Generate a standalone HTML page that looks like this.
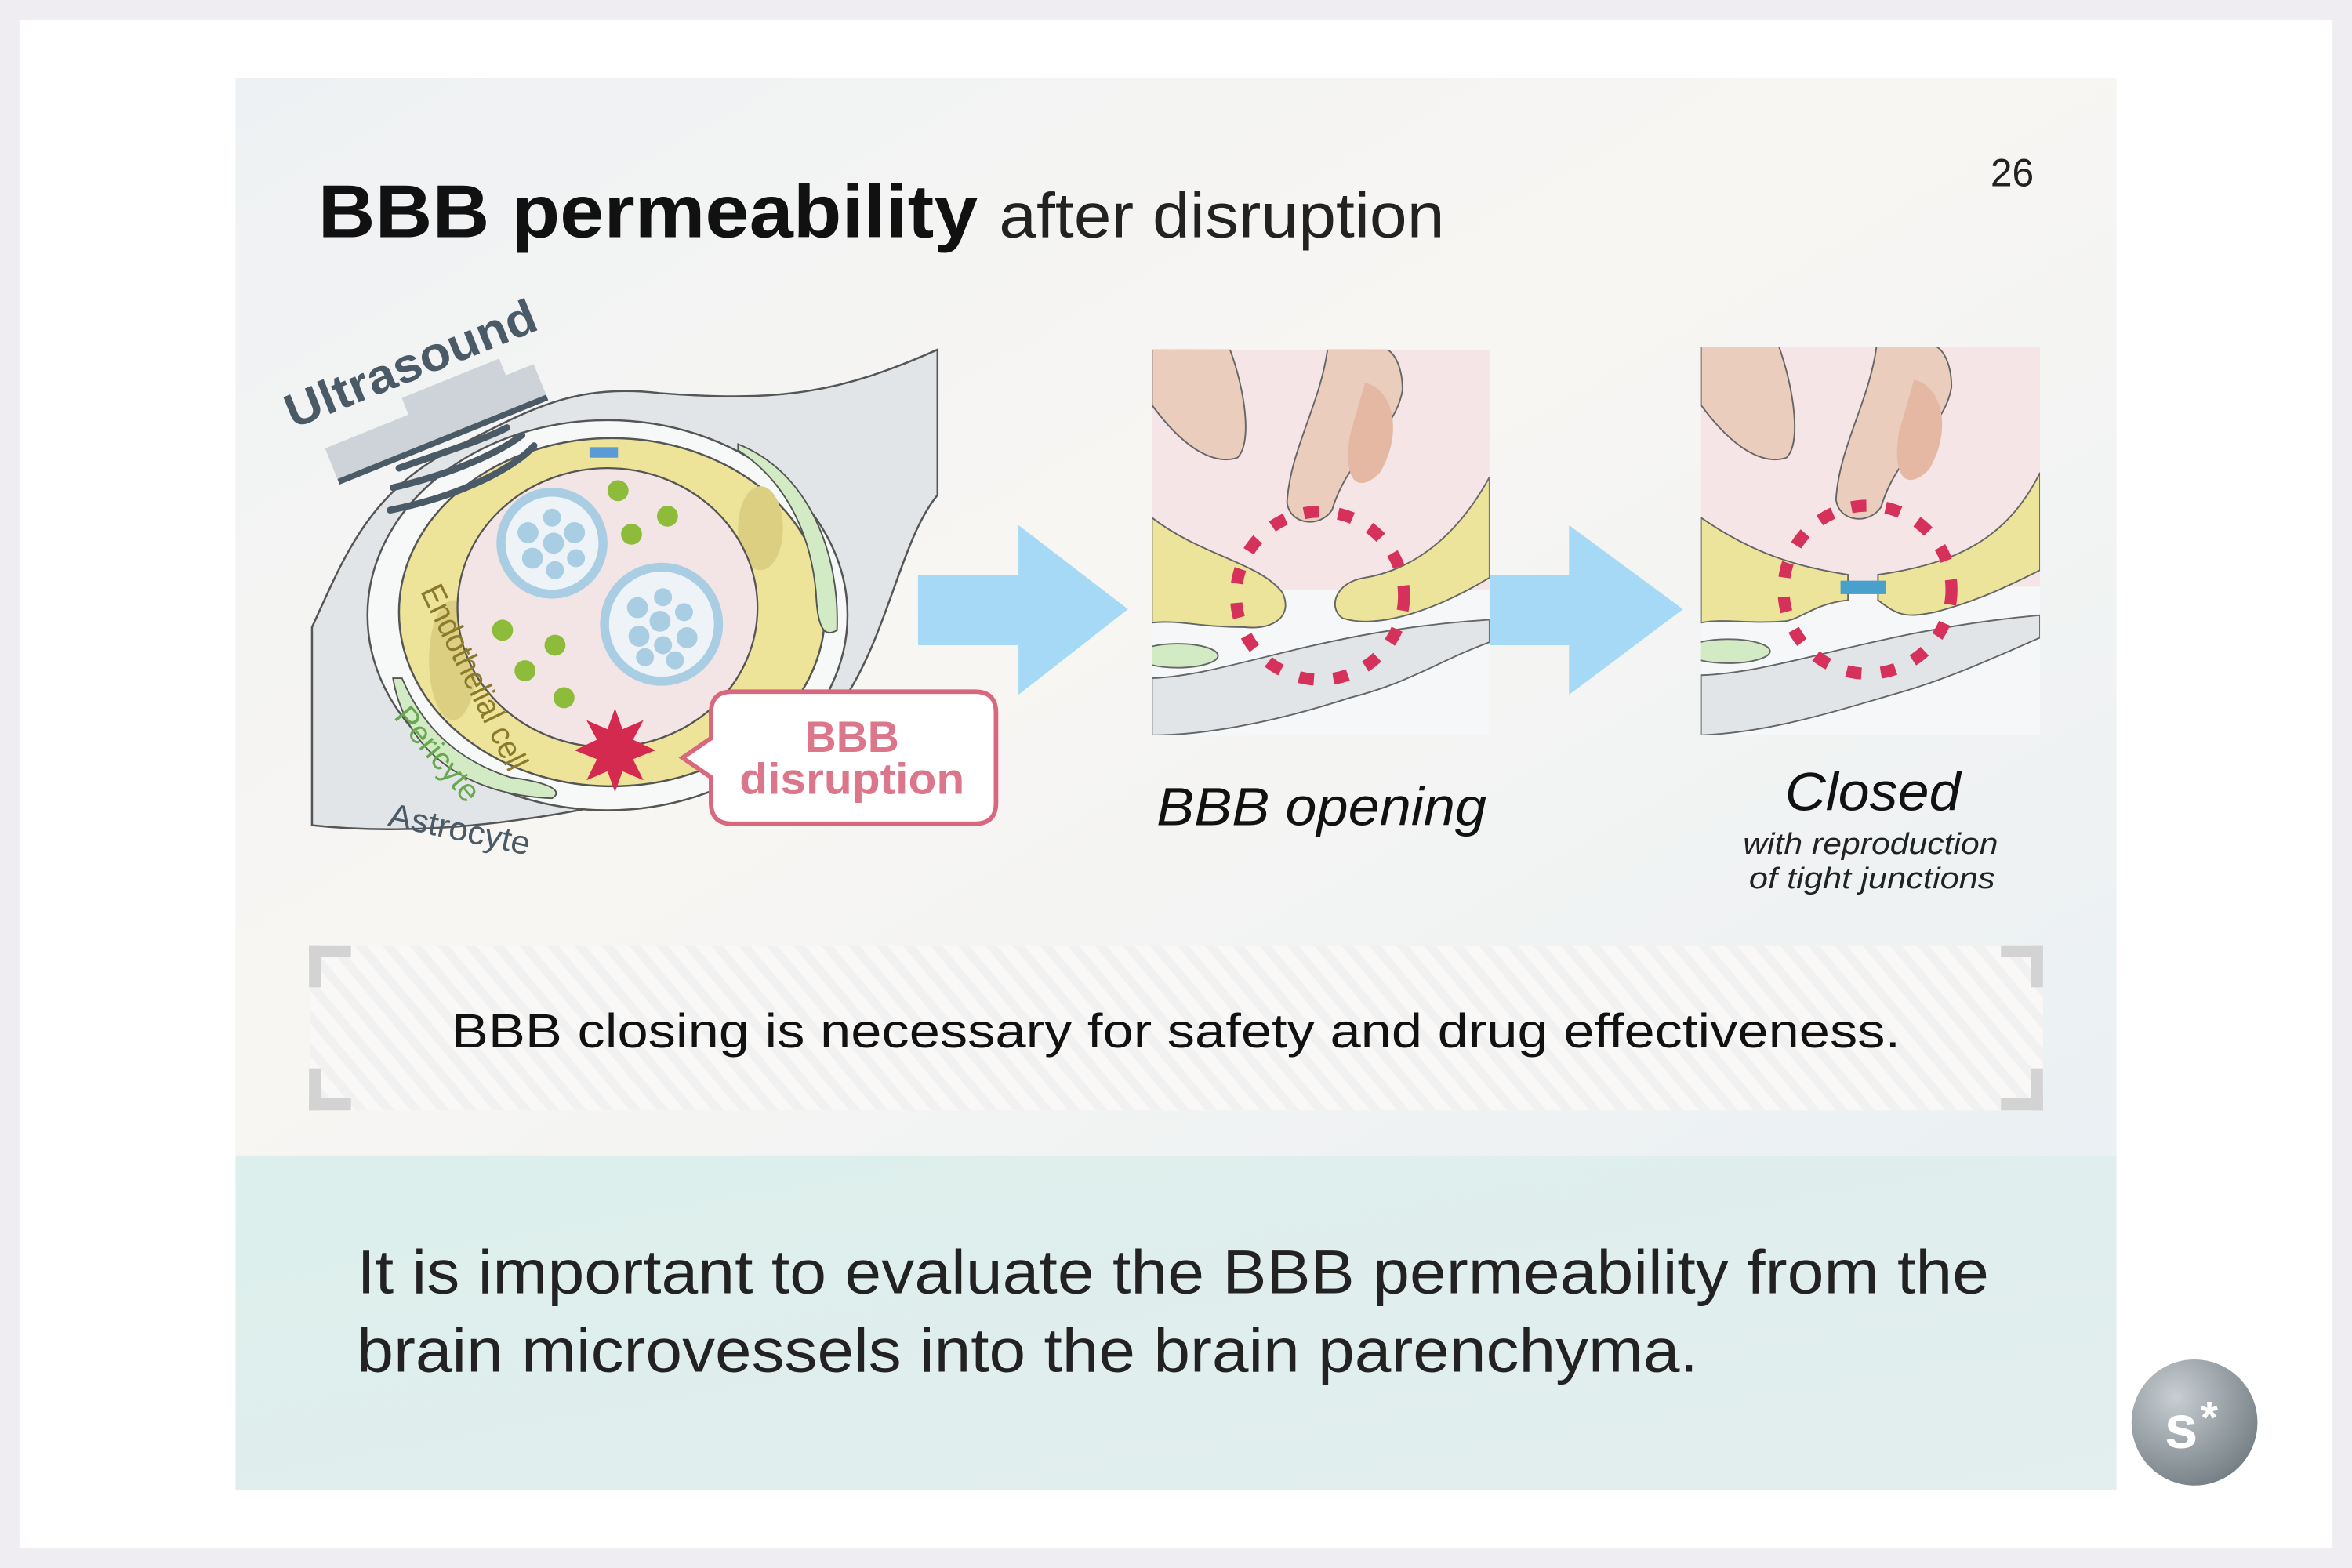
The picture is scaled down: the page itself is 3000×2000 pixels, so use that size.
<!DOCTYPE html>
<html><head><meta charset="utf-8"><style>
html,body{margin:0;padding:0;width:3000px;height:2000px;overflow:hidden;background:#efedf1}
svg{display:block}
text{font-family:"Liberation Sans","DejaVu Sans",sans-serif}
</style></head><body>
<svg width="3000" height="2000" viewBox="0 0 1568 1045" preserveAspectRatio="none" xmlns="http://www.w3.org/2000/svg">
<defs>
<linearGradient id="sl" x1="0" y1="0" x2="1" y2="1">
<stop offset="0" stop-color="#eef1f3"/><stop offset="0.45" stop-color="#f8f6f3"/><stop offset="1" stop-color="#eaf0f3"/>
</linearGradient>
<linearGradient id="bt" x1="0" y1="0" x2="1" y2="1">
<stop offset="0" stop-color="#dcefec"/><stop offset="1" stop-color="#e3eeee"/>
</linearGradient>
<pattern id="hatch" width="14" height="14" patternUnits="userSpaceOnUse" patternTransform="rotate(-40)">
<rect width="14" height="14" fill="#f9f8f7"/><rect width="6" height="14" fill="#f1f1f1"/>
</pattern>
<radialGradient id="logo" cx="0.35" cy="0.3" r="0.8">
<stop offset="0" stop-color="#c8ced2"/><stop offset="1" stop-color="#6f7a80"/>
</radialGradient>
<clipPath id="c2"><rect x="768" y="233" width="225" height="257"/></clipPath>
<clipPath id="c3"><rect x="1134" y="231" width="226" height="259"/></clipPath>
</defs>
<rect x="13" y="13" width="1542" height="1019" fill="#ffffff"/>
<rect x="157" y="52" width="1254" height="718" fill="url(#sl)"/>
<rect x="157" y="770" width="1254" height="223" fill="url(#bt)"/>

<text x="212" y="158" font-size="50" font-weight="bold" fill="#111" textLength="440" lengthAdjust="spacingAndGlyphs">BBB permeability</text>
<text x="666" y="158" font-size="42" fill="#222" textLength="297" lengthAdjust="spacingAndGlyphs">after disruption</text>
<text x="1327" y="124" font-size="26" fill="#222">26</text>

<!-- left diagram -->
<path d="M208,418 C230,370 245,330 300,300 C350,275 380,255 440,262 C520,268 560,262 625,233 L625,330 C600,360 592,425 560,470 C540,500 505,518 470,520 C400,540 300,560 208,550 Z" fill="#e1e5e8" stroke="#555" stroke-width="1.3"/>
<ellipse cx="405" cy="410" rx="160" ry="130" fill="#f7f8f8" stroke="#555" stroke-width="1.3"/>
<ellipse cx="408" cy="408" rx="142" ry="116" fill="#ede49a" stroke="#555" stroke-width="1.3"/>
<ellipse cx="302" cy="440" rx="16" ry="40" fill="#dccf82"/>
<ellipse cx="507" cy="352" rx="15" ry="28" fill="#dccf82"/>
<ellipse cx="405" cy="405" rx="100" ry="93" fill="#f3e4e6" stroke="#555" stroke-width="1.2"/>
<rect x="393" y="298" width="19" height="7" fill="#5b9bd5"/>
<path d="M262,452 C270,500 310,530 368,532 C375,528 370,522 340,518 C300,505 280,480 268,452 Z" fill="#d2ebc4" stroke="#555" stroke-width="1"/>
<path d="M492,296 C540,315 560,370 558,420 C550,425 545,420 544,395 C540,350 520,318 492,300 Z" fill="#d2ebc4" stroke="#555" stroke-width="1"/>
<circle cx="368" cy="362" r="34" fill="#eef3f7" stroke="#a9cde3" stroke-width="6"/>
<g fill="#a9cde3"><circle cx="352" cy="355" r="7"/><circle cx="368" cy="345" r="6"/><circle cx="383" cy="355" r="7"/><circle cx="369" cy="362" r="7"/><circle cx="355" cy="372" r="7"/><circle cx="384" cy="372" r="6"/><circle cx="370" cy="380" r="6"/></g>
<circle cx="441" cy="416" r="38" fill="#eef3f7" stroke="#a9cde3" stroke-width="6"/>
<g fill="#a9cde3"><circle cx="425" cy="405" r="7"/><circle cx="442" cy="398" r="6"/><circle cx="456" cy="408" r="6"/><circle cx="440" cy="414" r="7"/><circle cx="426" cy="424" r="7"/><circle cx="458" cy="425" r="7"/><circle cx="442" cy="430" r="6"/><circle cx="430" cy="438" r="6"/><circle cx="450" cy="440" r="6"/></g>
<g fill="#8dbb3a"><circle cx="412" cy="327" r="7"/><circle cx="445" cy="344" r="7"/><circle cx="421" cy="356" r="7"/><circle cx="335" cy="420" r="7"/><circle cx="370" cy="430" r="7"/><circle cx="350" cy="447" r="7"/><circle cx="376" cy="465" r="7"/></g>
<polygon points="410,472 415,486 429,480 422,493 437,500 422,506 429,520 415,514 410,528 405,514 391,520 398,506 383,500 398,493 391,480 405,486" fill="#d42a4f"/>
<!-- ultrasound -->
<g transform="rotate(-22 290 280)">
<rect x="215" y="270" width="150" height="22" fill="#cdd3d8"/>
<rect x="275" y="258" width="70" height="14" fill="#cdd3d8"/>
<line x1="215" y1="294" x2="365" y2="294" stroke="#4a5a66" stroke-width="4"/>
<text x="200" y="250" font-size="32" font-weight="bold" fill="#4a5a66" textLength="178" lengthAdjust="spacingAndGlyphs">Ultrasound</text>
</g>
<g fill="none" stroke="#4a5a66" stroke-width="4.5" stroke-linecap="round">
<path d="M266,312 C300,300 325,292 338,285"/>
<path d="M262,325 C305,315 335,300 348,290"/>
<path d="M260,340 C310,330 345,310 356,297"/>
</g>
<text font-size="22" fill="#8a7a2a" transform="translate(280,394) rotate(64)" textLength="135" lengthAdjust="spacingAndGlyphs">Endothelial cell</text>
<text font-size="21" fill="#6aa84f" transform="translate(262,478) rotate(50)">Pericyte</text>
<text font-size="22" fill="#4a5a66" transform="translate(258,550) rotate(12)" textLength="96" lengthAdjust="spacingAndGlyphs">Astrocyte</text>
<!-- callout -->
<path d="M488,461 H650 Q664,461 664,475 V535 Q664,549 650,549 H488 Q474,549 474,535 V518 L455,505 L474,492 V475 Q474,461 488,461 Z" fill="#fff" stroke="#d9687f" stroke-width="3"/>
<text x="568" y="501" font-size="29" font-weight="bold" text-anchor="middle" fill="#d9687f" opacity="0.9">BBB</text>
<text x="568" y="529" font-size="29" font-weight="bold" text-anchor="middle" fill="#d9687f" opacity="0.9" textLength="150" lengthAdjust="spacingAndGlyphs">disruption</text>

<!-- arrows -->
<g fill="#a6d9f5">
<rect x="612" y="383" width="70" height="47"/><polygon points="679,350 752,406 679,463"/>
<rect x="993" y="383" width="56" height="47"/><polygon points="1046,350 1122,406 1046,463"/>
</g>

<!-- panel 2 -->
<g clip-path="url(#c2)">
<rect x="768" y="233" width="225" height="257" fill="#f6f7f8"/>
<rect x="768" y="233" width="225" height="160" fill="#f5e5e7"/>
<path d="M768,233 V270 C790,300 810,310 825,305 C835,295 830,260 820,233 Z" fill="#ebcdbd" stroke="#666" stroke-width="1"/>
<path d="M885,233 C880,270 860,300 858,335 C860,350 880,352 888,340 C900,300 930,290 935,260 C935,245 930,236 925,233 Z" fill="#ebcdbd" stroke="#666" stroke-width="1"/>
<path d="M910,255 C930,260 935,290 920,315 C905,330 895,320 900,290 Z" fill="#e4b8a2"/>
<path d="M768,345 C800,370 840,375 855,395 C862,410 850,420 830,418 C800,418 785,413 768,415 Z" fill="#ece49a" stroke="#666" stroke-width="1"/>
<path d="M993,318 C970,360 940,380 910,385 C890,388 885,405 895,412 C920,420 960,405 993,385 Z" fill="#ece49a" stroke="#666" stroke-width="1"/>
<ellipse cx="785" cy="437" rx="27" ry="8" fill="#d2ebc4" stroke="#666" stroke-width="1"/>
<path d="M768,452 C820,450 880,420 993,413 V428 C960,440 940,455 900,465 C860,478 810,490 768,490 Z" fill="#e1e5e8" stroke="#666" stroke-width="1"/>
<circle cx="880" cy="397" r="56" fill="none" stroke="#d6315a" stroke-width="8" stroke-dasharray="10 13"/>
</g>
<!-- panel 3 -->
<g clip-path="url(#c3)">
<rect x="1134" y="231" width="226" height="259" fill="#f6f7f8"/>
<rect x="1134" y="231" width="226" height="160" fill="#f5e5e7"/>
<path d="M1134,231 V270 C1156,300 1176,310 1191,305 C1201,295 1196,260 1186,231 Z" fill="#ebcdbd" stroke="#666" stroke-width="1"/>
<path d="M1251,231 C1246,268 1226,298 1224,333 C1226,348 1246,350 1254,338 C1266,298 1296,288 1301,258 C1301,243 1296,234 1291,231 Z" fill="#ebcdbd" stroke="#666" stroke-width="1"/>
<path d="M1276,253 C1296,258 1301,288 1286,313 C1271,328 1261,318 1266,288 Z" fill="#e4b8a2"/>
<path d="M1134,345 C1170,370 1200,378 1232,383 V400 C1210,402 1200,413 1190,414 C1165,416 1150,412 1134,415 Z" fill="#ece49a" stroke="#666" stroke-width="1"/>
<path d="M1360,315 C1340,355 1310,375 1252,383 V400 C1265,410 1270,412 1290,408 C1320,400 1340,390 1360,380 Z" fill="#ece49a" stroke="#666" stroke-width="1"/>
<rect x="1227" y="387" width="30" height="9" fill="#4aa0cc"/>
<ellipse cx="1152" cy="434" rx="28" ry="8" fill="#d2ebc4" stroke="#666" stroke-width="1"/>
<path d="M1134,450 C1190,448 1250,420 1360,410 V425 C1330,438 1300,452 1265,462 C1220,475 1180,488 1134,490 Z" fill="#e1e5e8" stroke="#666" stroke-width="1"/>
<circle cx="1245" cy="393" r="56" fill="none" stroke="#d6315a" stroke-width="8" stroke-dasharray="10 13"/>
</g>
<text x="771" y="550" font-size="36" font-style="italic" fill="#111" textLength="220" lengthAdjust="spacingAndGlyphs">BBB opening</text>
<text x="1190" y="540" font-size="36" font-style="italic" fill="#111" textLength="117" lengthAdjust="spacingAndGlyphs">Closed</text>
<text x="1162" y="569" font-size="20" font-style="italic" fill="#222" textLength="170" lengthAdjust="spacingAndGlyphs">with reproduction</text>
<text x="1166" y="592" font-size="20" font-style="italic" fill="#222" textLength="164" lengthAdjust="spacingAndGlyphs">of tight junctions</text>

<!-- note box -->
<rect x="207" y="630" width="1155" height="110" fill="url(#hatch)"/>
<g fill="#d3d3d3">
<rect x="206" y="630" width="28" height="8"/><rect x="206" y="630" width="8" height="28"/>
<rect x="206" y="732" width="28" height="8"/><rect x="206" y="712" width="8" height="28"/>
<rect x="1334" y="630" width="28" height="8"/><rect x="1354" y="630" width="8" height="28"/>
<rect x="1334" y="732" width="28" height="8"/><rect x="1354" y="712" width="8" height="28"/>
</g>
<text x="301" y="698" font-size="32" fill="#111" textLength="966" lengthAdjust="spacingAndGlyphs">BBB closing is necessary for safety and drug effectiveness.</text>

<text x="238" y="862" font-size="41" fill="#222" textLength="1088" lengthAdjust="spacingAndGlyphs">It is important to evaluate the BBB permeability from the</text>
<text x="238" y="914" font-size="41" fill="#222" textLength="894" lengthAdjust="spacingAndGlyphs">brain microvessels into the brain parenchyma.</text>

<circle cx="1463" cy="948" r="42" fill="url(#logo)"/>
<text x="1443" y="965" font-size="40" font-weight="bold" fill="#fff">s</text>
<text x="1467" y="955" font-size="30" font-weight="bold" fill="#fff">*</text>
</svg>
</body></html>
